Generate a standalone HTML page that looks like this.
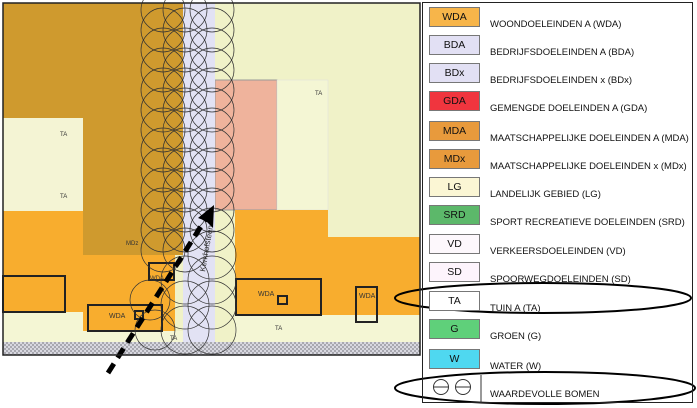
<!DOCTYPE html>
<html><head><style>
body{margin:0;width:697px;height:408px;background:#fff;overflow:hidden;font-family:"Liberation Sans",sans-serif}
.leg{position:absolute;left:422px;top:2px;width:271px;height:401px;border:1px solid #222;box-sizing:border-box}
.sw{position:absolute;left:6px;width:51px;height:20px;border:1px solid #777;box-sizing:border-box;font-size:10.5px;text-align:center;line-height:18px;color:#111}
.lt{position:absolute;left:67px;font-size:9.5px;color:#111;white-space:nowrap}
</style></head><body>
<svg width="697" height="408" style="position:absolute;left:0;top:0">
<defs><pattern id="h" width="4" height="4" patternUnits="userSpaceOnUse"><rect width="4" height="4" fill="#d8d8e0"/><rect width="2" height="2" fill="#a8a8b0"/><rect x="2" y="2" width="2" height="2" fill="#a8a8b0"/></pattern></defs>
<rect x="3" y="3" width="417" height="352" fill="#f0f2c8"/>
<rect x="3" y="3" width="180" height="252" fill="#cf9a2e"/>
<rect x="3" y="118" width="80" height="93" fill="#f4f4d4"/>
<rect x="3" y="211" width="80" height="101" fill="#f8ad2e"/>
<rect x="83" y="255" width="92" height="76" fill="#f8ad2e"/>
<rect x="3" y="312" width="80" height="30" fill="#f4f6d4"/>
<rect x="83" y="331" width="100" height="11" fill="#f4f6d4"/>
<rect x="215" y="80" width="62" height="130" fill="#efb39c" stroke="#999" stroke-width="1"/>
<rect x="277" y="80" width="51" height="130" fill="#f4f6d4" stroke="#ddd" stroke-width="0.5"/>
<rect x="235" y="210" width="185" height="105" fill="#f8ad2e"/>
<rect x="328" y="210" width="92" height="27" fill="#f0f2c8"/>
<rect x="235" y="315" width="185" height="27" fill="#f4f6d4"/>
<rect x="183" y="3" width="32" height="339" fill="#e2e2f4"/>
<rect x="3" y="342" width="417" height="13" fill="url(#h)"/>
<g fill="none" stroke="#222" stroke-width="2">
<rect x="3" y="276" width="62" height="36"/>
<rect x="88" y="305" width="74" height="26"/>
<rect x="149" y="263" width="25" height="17"/>
<rect x="236" y="279" width="85" height="36"/>
<rect x="356" y="287" width="21" height="35"/>
<rect x="135" y="311" width="8" height="8"/><rect x="278" y="296" width="9" height="8"/>
</g>
<g font-size="6" fill="#333"><text x="60" y="136">TA</text><text x="60" y="198">TA</text><text x="126" y="245">MDz</text><text x="315" y="95">TA</text><text x="275" y="330">TA</text><text x="170" y="340">TA</text>
<text x="109" y="318" font-size="7">WDA</text><text x="258" y="296" font-size="7">WDA</text><text x="359" y="298" font-size="7">WDA</text><text x="150" y="280" font-size="6">WDA</text></g>
<text x="0" y="0" font-size="8" fill="#333" transform="translate(205,272) rotate(-80)">Kerkhofsteen</text>
<g fill="none" stroke="#333" stroke-width="0.7">
<circle cx="163" cy="10" r="22"/><circle cx="163" cy="30" r="22"/><circle cx="163" cy="50" r="22"/><circle cx="163" cy="70" r="22"/><circle cx="163" cy="90" r="22"/><circle cx="163" cy="110" r="22"/><circle cx="163" cy="130" r="22"/><circle cx="163" cy="150" r="22"/><circle cx="163" cy="170" r="22"/><circle cx="163" cy="190" r="22"/><circle cx="163" cy="210" r="22"/><circle cx="163" cy="230" r="22"/><circle cx="163" cy="250" r="22"/>
<circle cx="185" cy="10" r="22"/><circle cx="185" cy="30" r="22"/><circle cx="185" cy="50" r="22"/><circle cx="185" cy="70" r="22"/><circle cx="185" cy="90" r="22"/><circle cx="185" cy="110" r="22"/><circle cx="185" cy="130" r="22"/><circle cx="185" cy="150" r="22"/><circle cx="185" cy="170" r="22"/><circle cx="185" cy="190" r="22"/><circle cx="185" cy="210" r="22"/><circle cx="185" cy="230" r="22"/><circle cx="185" cy="250" r="22"/><circle cx="185" cy="280" r="24"/><circle cx="185" cy="305" r="24"/><circle cx="185" cy="330" r="24"/>
<circle cx="212" cy="10" r="22"/><circle cx="212" cy="30" r="22"/><circle cx="212" cy="50" r="22"/><circle cx="212" cy="70" r="22"/><circle cx="212" cy="90" r="22"/><circle cx="212" cy="110" r="22"/><circle cx="212" cy="130" r="22"/><circle cx="212" cy="150" r="22"/><circle cx="212" cy="170" r="22"/><circle cx="212" cy="190" r="22"/><circle cx="212" cy="210" r="22"/><circle cx="212" cy="230" r="22"/><circle cx="212" cy="255" r="24"/><circle cx="212" cy="280" r="24"/><circle cx="212" cy="305" r="24"/><circle cx="212" cy="330" r="24"/>
<circle cx="150" cy="300" r="20"/><circle cx="155" cy="330" r="20"/>
</g>
<line x1="108" y1="373" x2="205" y2="220" stroke="#000" stroke-width="5" stroke-dasharray="11,7"/>
<polygon points="214,205 213,228 206,221 198,218" fill="#000"/>
<ellipse cx="543" cy="298" rx="148" ry="15" fill="none" stroke="#000" stroke-width="2"/>
<ellipse cx="545" cy="388" rx="150" ry="16" fill="none" stroke="#000" stroke-width="2"/>
<rect x="3" y="3" width="417" height="352" fill="none" stroke="#222" stroke-width="1.5"/>
</svg>
<div class="leg">
<div class="sw" style="top:4px;background:#f7b54a">WDA</div><div class="lt" style="top:16px">WOONDOELEINDEN A (WDA)</div>
<div class="sw" style="top:32px;background:#e2e0f4">BDA</div><div class="lt" style="top:44px">BEDRIJFSDOELEINDEN A (BDA)</div>
<div class="sw" style="top:60px;background:#e2e0f4">BDx</div><div class="lt" style="top:72px">BEDRIJFSDOELEINDEN x (BDx)</div>
<div class="sw" style="top:88px;background:#f0353e">GDA</div><div class="lt" style="top:100px">GEMENGDE DOELEINDEN A (GDA)</div>
<div class="sw" style="top:118px;background:#e89a3c">MDA</div><div class="lt" style="top:130px">MAATSCHAPPELIJKE DOELEINDEN A (MDA)</div>
<div class="sw" style="top:146px;background:#e89a3c">MDx</div><div class="lt" style="top:158px">MAATSCHAPPELIJKE DOELEINDEN x (MDx)</div>
<div class="sw" style="top:174px;background:#fbf6d4">LG</div><div class="lt" style="top:186px">LANDELIJK  GEBIED (LG)</div>
<div class="sw" style="top:202px;background:#5cb86a">SRD</div><div class="lt" style="top:214px">SPORT RECREATIEVE DOELEINDEN (SRD)</div>
<div class="sw" style="top:231px;background:#fdf8fc">VD</div><div class="lt" style="top:243px">VERKEERSDOELEINDEN (VD)</div>
<div class="sw" style="top:259px;background:#fdf4fc">SD</div><div class="lt" style="top:271px">SPOORWEGDOELEINDEN (SD)</div>
<div class="sw" style="top:288px;background:#fff">TA</div><div class="lt" style="top:300px">TUIN A (TA)</div>
<div class="sw" style="top:316px;background:#5fd07a">G</div><div class="lt" style="top:328px">GROEN (G)</div>
<div class="sw" style="top:346px;background:#4fd8f0">W</div><div class="lt" style="top:358px">WATER (W)</div>
<div class="lt" style="top:386px">WAARDEVOLLE BOMEN</div>
<svg width="60" height="30" style="position:absolute;left:6px;top:372px"><circle cx="12" cy="12" r="7.5" fill="none" stroke="#333"/><line x1="4.5" y1="12" x2="19.5" y2="12" stroke="#333"/><circle cx="34" cy="12" r="7.5" fill="none" stroke="#333"/><line x1="26.5" y1="12" x2="41.5" y2="12" stroke="#333"/><line x1="52" y1="0" x2="52" y2="28" stroke="#333"/></svg>
</div>
</body></html>
